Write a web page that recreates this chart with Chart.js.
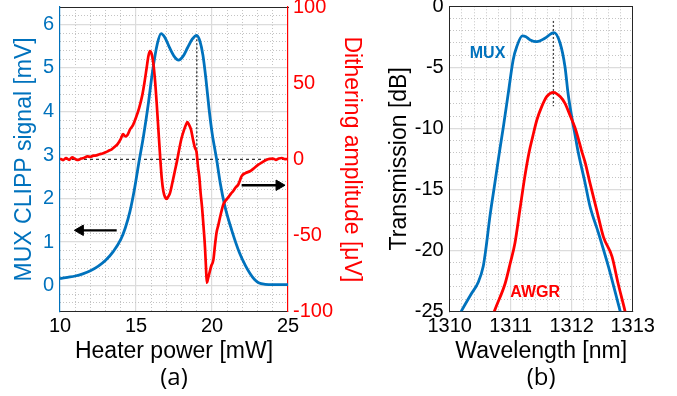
<!DOCTYPE html>
<html>
<head>
<meta charset="utf-8">
<script src="https://cdn.jsdelivr.net/npm/chart.js@4.4.0/dist/chart.umd.min.js"></script>
<style>
  html, body { margin: 0; padding: 0; background: #fff; }
  #wrap { position: relative; width: 677px; height: 396px; }
  canvas { position: absolute; top: 0; }
  #chartA { left: 0; }
  #chartB { left: 375px; }
</style>
</head>
<body>
<div id="wrap">
  <canvas id="chartA" width="375" height="396"></canvas>
  <canvas id="chartB" width="302" height="396"></canvas>
</div>
<script>
// tick labels
const heaterTicks = [10, 15, 20, 25];
const muxTicks = [0, 1, 2, 3, 4, 5, 6];
const ditherTicks = [-100, -50, 0, 50, 100];
const wlTicks = [1310, 1311, 1312, 1313];
const transTicks = [-25, -20, -15, -10, -5, 0];

// (a) MUX CLIPP signal vs heater power
const muxPower = [10, 10.5, 11, 11.5, 12, 12.5, 13, 13.5, 14, 14.3, 14.6, 14.9, 15.2, 15.5, 15.8, 16.1, 16.4, 16.65,
  16.9, 17.2, 17.5, 17.8, 18.1, 18.4, 18.7, 19, 19.2, 19.4, 19.6, 19.8, 20, 20.3, 20.55, 20.85,
  21.3, 21.8, 22.2, 22.5, 22.8, 23.1, 23.5, 24, 24.5, 25];
const muxSignal = [0.16, 0.19, 0.22, 0.27, 0.34, 0.44, 0.58, 0.78, 1.06, 1.33, 1.70, 2.22, 2.85, 3.45, 4.15, 4.95, 5.55, 5.79,
  5.70, 5.47, 5.27, 5.18, 5.27, 5.47, 5.66, 5.75, 5.62, 5.30, 4.75, 4.08, 3.52, 2.91, 2.34, 1.82,
  1.27, 0.76, 0.46, 0.28, 0.14, 0.06, 0.03, 0.02, 0.02, 0.02];

// (a) dithering amplitude vs heater power
const ditherPower = [10, 10.2, 10.4, 10.6, 10.8, 11, 11.2, 11.4, 11.6, 11.8, 12, 12.2, 12.4, 12.6, 12.8, 13, 13.2, 13.4,
  13.6, 13.8, 14, 14.15, 14.3, 14.45, 14.6, 14.8, 15, 15.2, 15.4, 15.55, 15.7, 15.82, 15.92, 16.02, 16.14, 16.25,
  16.36, 16.47, 16.58, 16.69, 16.8, 16.92, 17.02, 17.12, 17.24, 17.4, 17.55, 17.7, 17.85, 18, 18.15, 18.3, 18.38,
  18.5, 18.62, 18.75, 18.88, 18.98, 19.08, 19.17, 19.25, 19.35, 19.45, 19.54, 19.6, 19.66, 19.72, 19.82, 19.95,
  20.09, 20.2, 20.3, 20.42, 20.53, 20.65, 20.75, 20.9, 21.07, 21.25, 21.4, 21.55, 21.73, 21.85, 21.95, 22.2, 22.5,
  22.8, 23.05, 23.3, 23.6, 23.8, 24, 24.2, 24.4, 24.6, 24.8, 25];
const ditherAmp = [0.5, -0.5, 0.8, -0.3, 1.3, 0.2, -0.4, 0.5, 1.0, 2.0, 1.6, 2.4, 2.6, 3.4, 3.8, 4.6, 5.6, 6.6,
  8.3, 10.2, 13.5, 16.5, 15.0, 16.2, 19.5, 22.5, 27.5, 33.5, 41.5, 50, 60, 68, 71, 69.5, 63, 52,
  37, 20, 3, -12, -21, -25, -26, -24.5, -22, -15, -8, -1, 7, 14, 19, 23, 24.4,
  22.5, 19.5, 13, 7.5, 5, -5, -12, -22, -32, -45, -58, -70, -81, -79, -75, -70,
  -66, -56, -48, -43, -38, -33, -29.5, -27, -25, -22.5, -20.8, -18.5, -16.5, -13.5, -11, -9, -7.8,
  -5.5, -3.5, -2, -0.2, 0.3, 0.5, -0.3, 0.6, 0.9, 0.1, 0.3];

// (b) transmission spectra
const wlMux = [1310.05, 1310.2, 1310.35, 1310.47, 1310.55, 1310.59, 1310.66, 1310.74, 1310.82, 1310.88, 1310.96,
  1311.04, 1311.1, 1311.19, 1311.25, 1311.32, 1311.43, 1311.56, 1311.71, 1311.81, 1311.89, 1311.94, 1312.0,
  1312.05, 1312.1, 1312.22, 1312.3, 1312.44, 1312.6, 1312.79, 1312.85];
const muxTrans = [-26.3, -24.9, -23.6, -22.6, -21.3, -20.0, -17.2, -14.5, -11.8, -9.87, -7.13,
  -4.4, -3.3, -2.43, -2.5, -2.76, -2.9, -2.62, -2.16, -3.03, -4.95, -7.13, -9.05,
  -10.4, -11.8, -14.5, -16.4, -18.6, -21.3, -24.9, -26.0];
const wlAwgr = [1310.7, 1310.74, 1310.91, 1310.99, 1311.07, 1311.15, 1311.23, 1311.3, 1311.36, 1311.43, 1311.51,
  1311.59, 1311.7, 1311.81, 1311.89, 1311.97, 1312.05, 1312.1, 1312.16, 1312.22, 1312.3, 1312.41, 1312.52,
  1312.66, 1312.76, 1312.87, 1312.92];
const awgrTrans = [-25.5, -24.9, -22.7, -21.1, -19.4, -16.7, -14.0, -12.0, -10.7, -9.3, -8.2,
  -7.4, -7.05, -7.4, -7.95, -8.9, -9.9, -10.7, -11.8, -12.8, -14.5, -16.7, -18.9,
  -20.5, -22.7, -24.9, -26.0];

const BLUE = '#0072bd';
const RED = '#ff0000';
const FONT = '"Liberation Sans", Arial, sans-serif';
const MAJOR = '#dcdcdc';
const MINOR = '#c4c4c4';
const CLEAR = 'rgba(0,0,0,0)';

Chart.defaults.font.family = FONT;
Chart.defaults.color = '#000';

const pts = (xs, ys) => xs.map((x, i) => ({ x, y: ys[i] }));
const plain = v => String(v);

// pin an axis box to a fixed size so the plot areas land where the figure has them
function fixSize(size) {
  return s => {
    if (s.isHorizontal()) s.height = size; else s.width = size;
    s.paddingTop = s.paddingBottom = s.paddingLeft = s.paddingRight = 0;
  };
}
const useTicks = list => s => { s.ticks = list.map(v => ({ value: v })); };
const near = (list, v) => list.some(m => Math.abs(m - v) < 1e-6);

// dotted minor grid, drawn by an extra hidden axis
function minorGrid(axis, min, max, step, skip) {
  return {
    type: 'linear', axis, position: axis === 'x' ? 'bottom' : 'left',
    min, max,
    ticks: { display: false, stepSize: step },
    grid: { drawTicks: false, lineWidth: 1, color: c => near(skip, c.tick.value) ? CLEAR : MINOR },
    border: { display: false, dash: [1, 2] },
    afterFit: fixSize(0)
  };
}

function majorGrid(bounds) {
  return { drawTicks: false, lineWidth: 1.2, color: c => near(bounds, c.tick.value) ? CLEAR : MAJOR };
}

function edgeAxis(axis, position, min, max) {
  return {
    type: 'linear', axis, position, min, max,
    ticks: { display: false },
    grid: { drawOnChartArea: false, drawTicks: false },
    border: { display: true, color: '#262626', width: 1 },
    afterFit: fixSize(0)
  };
}

function captionAxis(text, min, max) {
  return {
    type: 'linear', position: 'bottom', weight: 5, min, max,
    ticks: { display: false },
    grid: { display: false },
    border: { display: false },
    title: { display: true, text, color: '#000', font: { family: '"Open Sans"', size: 24 }, padding: { top: 0, bottom: 3 } },
    afterFit: fixSize(30.8)
  };
}

new Chart(document.getElementById('chartA'), {
  type: 'line',
  data: {
    datasets: [
      {
        data: pts(ditherPower, ditherAmp), yAxisID: 'y2',
        borderColor: RED, borderWidth: 2.7, pointRadius: 0, cubicInterpolationMode: 'monotone'
      },
      {
        data: pts(muxPower, muxSignal), yAxisID: 'y',
        borderColor: BLUE, borderWidth: 2.8, pointRadius: 0, cubicInterpolationMode: 'monotone'
      },
      {
        data: pts([10, 25], [0, 0]), yAxisID: 'y2',
        borderColor: '#333', borderWidth: 1.3, borderDash: [3, 3], pointRadius: 0
      },
      {
        data: pts([19, 19], [5.75, 2.92]), yAxisID: 'y',
        borderColor: '#333', borderWidth: 1.3, borderDash: [2, 2], pointRadius: 0
      },
      {
        data: pts([13.73, 11.34], [1.27, 1.27]), yAxisID: 'y',
        borderColor: '#000', borderWidth: 2.3, pointStyle: 'triangle', pointRadius: [0, 6],
        pointRotation: -90, pointBackgroundColor: '#000', pointBorderColor: '#000', pointBorderWidth: 1
      },
      {
        data: pts([21.95, 24.41], [-17, -17]), yAxisID: 'y2',
        borderColor: '#000', borderWidth: 2.3, pointStyle: 'triangle', pointRadius: [0, 6],
        pointRotation: 90, pointBackgroundColor: '#000', pointBorderColor: '#000', pointBorderWidth: 1
      }
    ]
  },
  options: {
    responsive: false,
    animation: false,
    devicePixelRatio: 1,
    layout: { padding: { top: 6, right: 0, bottom: 0, left: 0 } },
    plugins: { legend: { display: false }, tooltip: { enabled: false } },
    scales: {
      x: {
        type: 'linear', min: 10, max: 25,
        afterBuildTicks: useTicks(heaterTicks),
        ticks: { font: { size: 20 }, color: '#000', padding: 3, maxRotation: 0, callback: plain },
        grid: majorGrid([10, 25]),
        border: { color: '#262626', width: 1 },
        title: { display: true, text: 'Heater power [mW]', color: '#000', font: { size: 23 }, padding: { top: 0, bottom: 0 } },
        afterFit: fixSize(53.5)
      },
      cap: captionAxis('(a)', 10, 25),
      xTop: edgeAxis('x', 'top', 10, 25),
      xMinor: minorGrid('x', 10, 25, 1, heaterTicks),
      y: {
        type: 'linear', position: 'left', min: -0.6, max: 6.4,
        afterBuildTicks: useTicks(muxTicks),
        ticks: { font: { size: 20 }, color: BLUE, padding: 6, callback: plain },
        grid: majorGrid([-0.6, 6.4]),
        border: { color: BLUE, width: 1.2 },
        title: { display: true, text: 'MUX CLIPP signal [mV]', color: BLUE, font: { size: 23 }, padding: { top: 11, bottom: 0 } },
        afterFit: fixSize(60)
      },
      yMinor: minorGrid('y', -0.6, 6.4, 0.2, [-0.6, 6.4, ...muxTicks]),
      y2: {
        type: 'linear', position: 'right', min: -100, max: 100,
        afterBuildTicks: useTicks(ditherTicks),
        ticks: { font: { size: 20 }, color: RED, padding: 5, callback: plain },
        grid: { drawOnChartArea: false, drawTicks: false },
        border: { color: RED, width: 1.2 },
        title: { display: true, text: 'Dithering amplitude [μV]', color: RED, font: { size: 23 }, padding: { top: 10, bottom: 0 } },
        afterFit: fixSize(87)
      }
    }
  }
});

const specLabels = {
  id: 'specLabels',
  afterDatasetsDraw(chart) {
    const { ctx, scales: { x, y } } = chart;
    ctx.save();
    ctx.font = 'bold 16px ' + FONT;
    ctx.textAlign = 'center';
    ctx.textBaseline = 'middle';
    ctx.fillStyle = BLUE;
    ctx.fillText('MUX', x.getPixelForValue(1310.62), y.getPixelForValue(-3.9));
    ctx.fillStyle = RED;
    ctx.fillText('AWGR', x.getPixelForValue(1311.4), y.getPixelForValue(-23.5));
    ctx.restore();
  }
};

new Chart(document.getElementById('chartB'), {
  type: 'line',
  data: {
    datasets: [
      {
        data: pts(wlAwgr, awgrTrans), borderColor: RED, borderWidth: 2.8, pointRadius: 0,
        cubicInterpolationMode: 'monotone', clip: 0
      },
      {
        data: pts(wlMux, muxTrans), borderColor: BLUE, borderWidth: 2.8, pointRadius: 0,
        cubicInterpolationMode: 'monotone', clip: 0
      },
      {
        data: pts([1311.7, 1311.7], [-1.2, -8.2]), borderColor: '#444', borderWidth: 1.3,
        borderDash: [2, 2], pointRadius: 0
      }
    ]
  },
  options: {
    responsive: false,
    animation: false,
    devicePixelRatio: 1,
    layout: { padding: { top: 6.3, right: 44.3, bottom: 0, left: 0 } },
    plugins: { legend: { display: false }, tooltip: { enabled: false } },
    scales: {
      x: {
        type: 'linear', min: 1310, max: 1313,
        afterBuildTicks: useTicks(wlTicks),
        ticks: { font: { size: 20 }, color: '#000', padding: 3, maxRotation: 0, callback: plain },
        grid: majorGrid([1310, 1313]),
        border: { color: '#262626', width: 1 },
        title: { display: true, text: 'Wavelength [nm]', color: '#000', font: { size: 23 }, padding: { top: 0, bottom: 0 } },
        afterFit: fixSize(53.9)
      },
      cap: captionAxis('(b)', 1310, 1313),
      xTop: edgeAxis('x', 'top', 1310, 1313),
      xMinor: minorGrid('x', 1310, 1313, 0.2, wlTicks),
      y: {
        type: 'linear', position: 'left', min: -25, max: 0,
        afterBuildTicks: useTicks(transTicks),
        ticks: { font: { size: 20 }, color: '#000', padding: 6, callback: plain },
        grid: majorGrid([-25, 0]),
        border: { color: '#262626', width: 1 },
        title: { display: true, text: 'Transmission [dB]', color: '#000', font: { size: 23 }, padding: { top: 11, bottom: 0 } },
        afterFit: fixSize(74.7)
      },
      yRight: edgeAxis('y', 'right', -25, 0),
      yMinor: minorGrid('y', -25, 0, 1, transTicks)
    }
  },
  plugins: [specLabels]
});
</script>
</body>
</html>
